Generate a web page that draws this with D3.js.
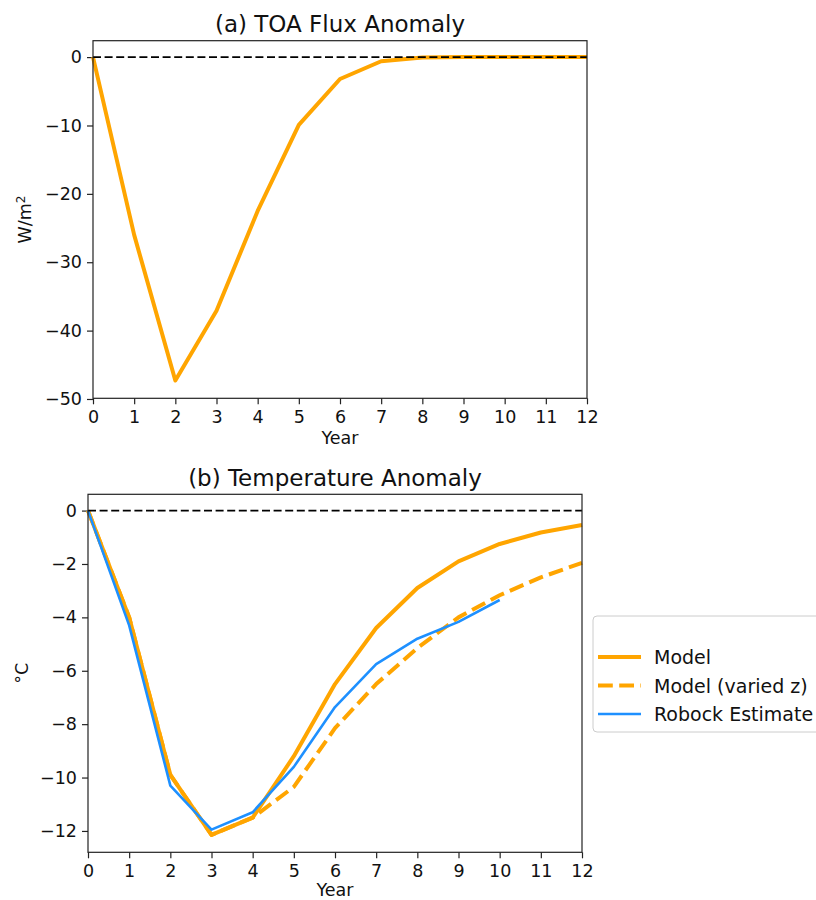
<!DOCTYPE html>
<html>
<head>
<meta charset="utf-8">
<script src="https://cdn.jsdelivr.net/npm/d3@7"></script>
<style>
  body { margin: 0; background: #fff; }
  svg { display: block; font-family: "DejaVu Sans", sans-serif; }
</style>
</head>
<body>
<div id="chart"></div>
<script>
// values
var years = [0, 1, 2, 3, 4, 5, 6, 7, 8, 9, 10, 11, 12];
var fluxAnomaly = [0, -26.0, -47.3, -37.1, -22.5, -9.9, -3.2, -0.6, -0.05, 0, 0, 0, 0];

var tempModel = [0, -4.0, -9.9, -12.15, -11.5, -9.2, -6.5, -4.4, -2.9, -1.9, -1.25, -0.82, -0.54];
var tempVariedZ = [0, -4.0, -9.9, -12.15, -11.5, -10.35, -8.15, -6.5, -5.15, -4.0, -3.17, -2.5, -1.96];
var robockYears = [0, 1, 2, 3, 4, 5, 6, 7, 8, 9, 10];
var robockEstimate = [0, -4.3, -10.3, -11.95, -11.3, -9.6, -7.36, -5.75, -4.8, -4.17, -3.35];

var xTicks = years;
var fluxTicks = [0, -10, -20, -30, -40, -50];
var tempTicks = [0, -2, -4, -6, -8, -10, -12];

var legendLabels = ['Model', 'Model (varied z)', 'Robock Estimate'];

var orange = '#ffa500';
var blue = '#1e90ff';

var svg = d3.select('#chart')
  .append('svg')
  .attr('width', 816)
  .attr('height', 900);

function drawPanel(opts) {
  var x = d3.scaleLinear().domain([0, 12]).range([opts.left, opts.right]);
  var y = d3.scaleLinear().domain(opts.ydomain).range([opts.bottom, opts.top]);
  var g = svg.append('g');

  var xAxis = g.append('g')
    .attr('transform', 'translate(0,' + opts.bottom + ')')
    .call(d3.axisBottom(x).tickValues(xTicks).tickSize(6).tickPadding(6).tickFormat(d3.format('d')));
  var yAxis = g.append('g')
    .attr('transform', 'translate(' + opts.left + ',0)')
    .call(d3.axisLeft(y).tickValues(opts.yticks).tickSize(6).tickPadding(5).tickFormat(d3.format('d')));

  [xAxis, yAxis].forEach(function(a) {
    a.select('.domain').remove();
    a.selectAll('.tick line').attr('stroke', '#222').attr('stroke-width', 1.2);
    a.selectAll('.tick text').attr('fill', '#111').style('font-size', '17.5px')
      .style('font-family', '"DejaVu Sans", sans-serif');
  });

  var line = d3.line()
    .x(function(d) { return x(d[0]); })
    .y(function(d) { return y(d[1]); });

  opts.series.forEach(function(s) {
    g.append('path')
      .datum(d3.zip(s.xs, s.ys))
      .attr('d', line)
      .attr('fill', 'none')
      .attr('stroke', s.color)
      .attr('stroke-width', s.width)
      .attr('stroke-dasharray', s.dash || null)
      .attr('stroke-linejoin', 'round');
  });

  // zero reference
  g.append('path')
    .datum([[0, 0], [12, 0]])
    .attr('d', line)
    .attr('stroke', '#000')
    .attr('stroke-width', 1.8)
    .attr('stroke-dasharray', '8,3.6');

  g.append('rect')
    .attr('x', opts.left).attr('y', opts.top)
    .attr('width', opts.right - opts.left)
    .attr('height', opts.bottom - opts.top)
    .attr('fill', 'none')
    .attr('stroke', '#222')
    .attr('stroke-width', 1.2);

  g.append('text')
    .attr('x', (opts.left + opts.right) / 2)
    .attr('y', opts.titleY)
    .attr('text-anchor', 'middle')
    .style('font-size', '23px')
    .attr('fill', '#111')
    .text(opts.title);

  g.append('text')
    .attr('x', (opts.left + opts.right) / 2)
    .attr('y', opts.xlabelY)
    .attr('text-anchor', 'middle')
    .style('font-size', '17.5px')
    .attr('fill', '#111')
    .text('Year');

  var yl = g.append('text')
    .attr('transform', 'translate(' + opts.ylabelX + ',' + ((opts.top + opts.bottom) / 2) + ') rotate(-90)')
    .attr('text-anchor', 'middle')
    .style('font-size', '17.5px')
    .attr('fill', '#111');
  opts.ylabel(yl);
}

drawPanel({
  left: 93, right: 587, top: 40.7, bottom: 398.3,
  ydomain: [-49.9, 2.4],
  yticks: fluxTicks,
  title: '(a) TOA Flux Anomaly',
  titleY: 32,
  xlabelY: 444,
  ylabelX: 30.5,
  ylabel: function(t) {
    t.append('tspan').text('W/m');
    t.append('tspan').attr('dy', -6).style('font-size', '12px').text('2');
  },
  series: [
    { xs: years, ys: fluxAnomaly, color: orange, width: 4 }
  ]
});

drawPanel({
  left: 88, right: 582, top: 494.3, bottom: 852.3,
  ydomain: [-12.8, 0.61],
  yticks: tempTicks,
  title: '(b) Temperature Anomaly',
  titleY: 486,
  xlabelY: 896,
  ylabelX: 28,
  ylabel: function(t) { t.text('°C'); },
  series: [
    { xs: years, ys: tempModel, color: orange, width: 4 },
    { xs: years, ys: tempVariedZ, color: orange, width: 4, dash: '14.8,6.4' },
    { xs: robockYears, ys: robockEstimate, color: blue, width: 2.6 }
  ]
});

// legend
var legend = svg.append('g');
legend.append('rect')
  .attr('x', 593).attr('y', 616)
  .attr('width', 260).attr('height', 116)
  .attr('rx', 4)
  .attr('fill', '#fff')
  .attr('stroke', '#cccccc')
  .attr('stroke-width', 1);

var legendStyles = [
  { color: orange, width: 4, dash: null },
  { color: orange, width: 4, dash: '14.8,6.4' },
  { color: blue, width: 2.6, dash: null }
];
var legendRowY = d3.scalePoint().domain(legendLabels).range([657, 714]);

legendLabels.forEach(function(lbl, i) {
  var yy = legendRowY(lbl);
  legend.append('line')
    .attr('x1', 598).attr('x2', 641)
    .attr('y1', yy).attr('y2', yy)
    .attr('stroke', legendStyles[i].color)
    .attr('stroke-width', legendStyles[i].width)
    .attr('stroke-dasharray', legendStyles[i].dash);
  legend.append('text')
    .attr('x', 654).attr('y', yy + 7)
    .style('font-size', '19px')
    .attr('fill', '#111')
    .text(lbl);
});
</script>
</body>
</html>
